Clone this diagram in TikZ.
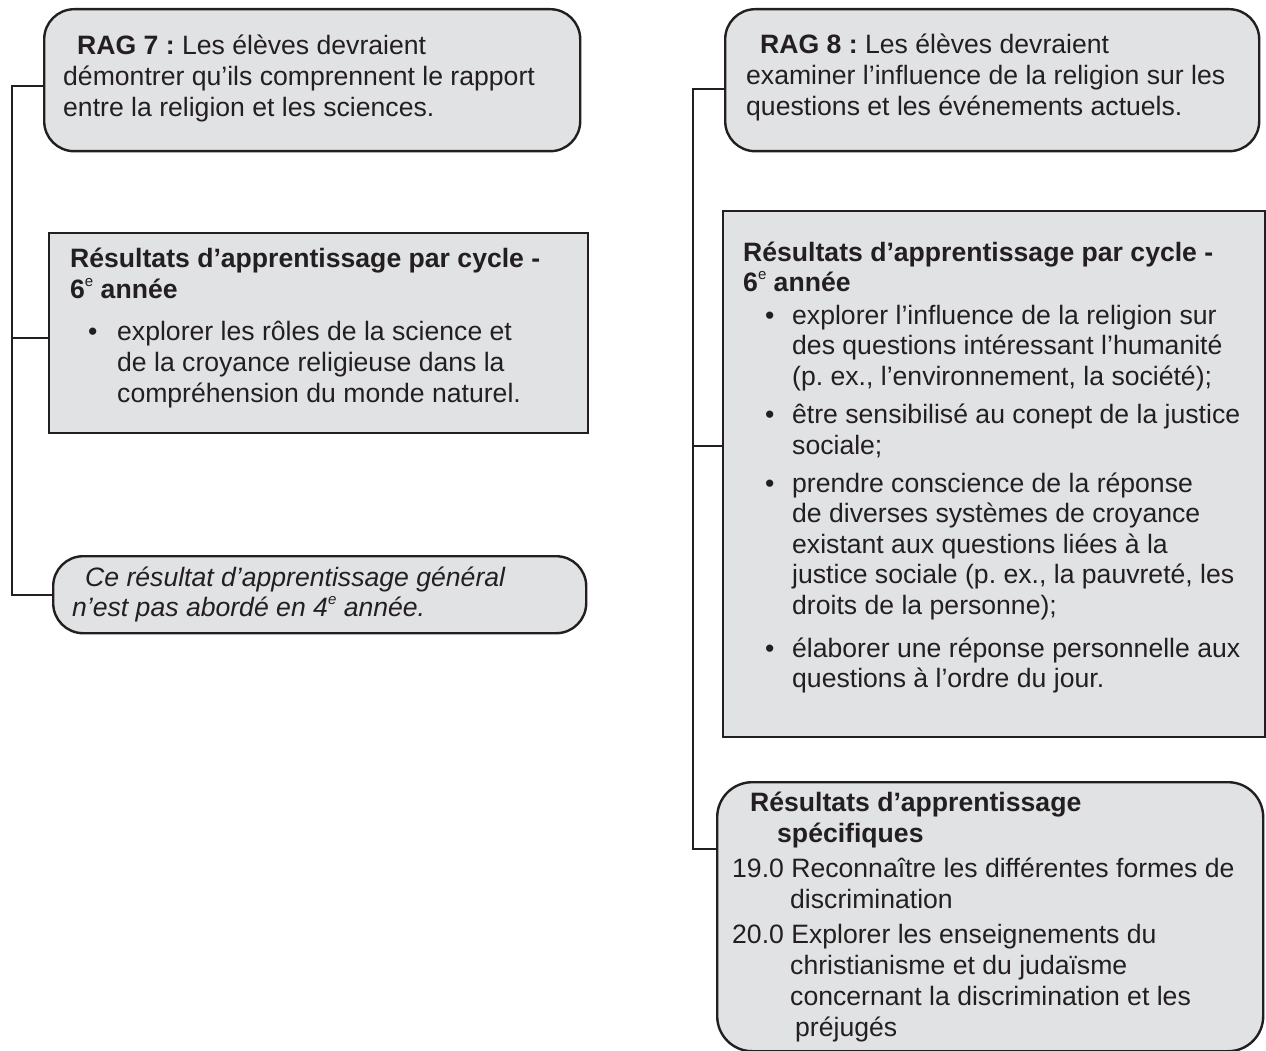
\documentclass[tikz,border=0pt]{standalone}
\usepackage{fontspec}
\setmainfont{Liberation Sans}
\frenchspacing
\definecolor{ink}{HTML}{231F20}
\definecolor{boxfill}{RGB}{225,226,228}
\tikzset{
  boxbase/.style={draw=ink, line width=2.4pt, fill=boxfill, anchor=north west, inner sep=0pt},
  roundbox/.style={boxbase, rounded corners=30pt},
  rectbox/.style={boxbase},
  txt/.style={anchor=base west, inner sep=0pt, text=ink, font=\fontsize{26.6}{30.6}\selectfont\frenchspacing},
  link/.style={draw=ink, line width=2.4pt},
}
\newcommand{\sups}[1]{\raisebox{0.45em}{\fontsize{15}{15}\selectfont\mdseries #1}}
\begin{document}
\begin{tikzpicture}[x=1pt,y=-1pt]
\useasboundingbox (0,0) rectangle (1266,1051);
% left column boxes
\node[roundbox, minimum width=536pt, minimum height=142pt] (lb1) at (43,8) {};
\node[rectbox, minimum width=539pt, minimum height=200pt] (lb2) at (48,232) {};
\node[roundbox, minimum width=533pt, minimum height=77pt] (lb3) at (52,555) {};
% right column boxes
\node[roundbox, minimum width=534pt, minimum height=142pt] (rb1) at (724,8) {};
\node[rectbox, minimum width=542pt, minimum height=526pt] (rb2) at (722,210) {};
\node[roundbox, rounded corners=35pt, minimum width=546pt, minimum height=269pt] (rb3) at (716,781) {};
% connectors
\draw[link] ([yshift=-6pt]lb1.west) -- ++(-31pt,0) |- (lb3.west);
\draw[link] ([yshift=-5pt]lb2.west) -- ++(-36pt,0);
\draw[link] ([yshift=-9pt]rb1.west) -- ++(-31pt,0) |- ([yshift=67.5pt]rb3.west);
\draw[link] ([yshift=28pt]rb2.west) -- ++(-29pt,0);
% texts
\node[txt] (lt1) at (63,55) {\vtop{%
  \hbox{\hspace*{14pt}\textbf{RAG 7 :} Les élèves devraient}
  \hbox{démontrer qu’ils comprennent le rapport}
  \hbox{entre la religion et les sciences.}}};
\node[txt] (lt2) at (70,267) {\vtop{\baselineskip=31pt
  \hbox{\textbf{Résultats d’apprentissage par cycle -}}
  \hbox{\textbf{6\sups{e} année}}
  \vskip 11pt
  \hbox{\hspace*{18pt}\makebox[29pt][l]{•}explorer les rôles de la science et}
  \hbox{\hspace*{47pt}de la croyance religieuse dans la}
  \hbox{\hspace*{47pt}compréhension du monde naturel.}}};
\node[txt] (lt3) at (72,586) {\vtop{\itshape
  \hbox{\hspace*{13pt}Ce résultat d’apprentissage général}
  \hbox{n’est pas abordé en 4\sups{e} année.}}};
\node[txt] (rt1) at (746,54) {\vtop{%
  \hbox{\hspace*{14pt}\textbf{RAG 8 :} Les élèves devraient}
  \hbox{examiner l’influence de la religion sur les}
  \hbox{questions et les événements actuels.}}};
\node[txt] (rt2) at (743,261) {\vtop{%
  \hbox{\textbf{Résultats d’apprentissage par cycle -}}
  \hbox{\textbf{6\sups{e} année}}
  \vskip 2pt
  \hbox{\hspace*{22pt}\makebox[27pt][l]{•}explorer l’influence de la religion sur}
  \hbox{\hspace*{49pt}des questions intéressant l’humanité}
  \hbox{\hspace*{49pt}(p. ex., l’environnement, la société);}
  \vskip 7.4pt
  \hbox{\hspace*{22pt}\makebox[27pt][l]{•}être sensibilisé au conept de la justice}
  \hbox{\hspace*{49pt}sociale;}
  \vskip 7.4pt
  \hbox{\hspace*{22pt}\makebox[27pt][l]{•}prendre conscience de la réponse}
  \hbox{\hspace*{49pt}de diverses systèmes de croyance}
  \hbox{\hspace*{49pt}existant aux questions liées à la}
  \hbox{\hspace*{49pt}justice sociale (p. ex., la pauvreté, les}
  \hbox{\hspace*{49pt}droits de la personne);}
  \vskip 12pt
  \hbox{\hspace*{22pt}\makebox[27pt][l]{•}élaborer une réponse personnelle aux}
  \hbox{\hspace*{49pt}questions à l’ordre du jour.}}};
\node[txt] (rt3) at (750,811) {\vtop{\baselineskip=31pt
  \hbox{\textbf{Résultats d’apprentissage}}
  \hbox{\hspace*{27pt}\textbf{spécifiques}}
  \vskip 4pt
  \hbox{\hspace*{-18pt}19.0 Reconnaître les différentes formes de}
  \hbox{\hspace*{40pt}discrimination}
  \vskip 4pt
  \hbox{\hspace*{-18pt}20.0 Explorer les enseignements du}
  \hbox{\hspace*{40pt}christianisme et du judaïsme}
  \hbox{\hspace*{40pt}concernant la discrimination et les}
  \hbox{\hspace*{45pt}préjugés}}};
\end{tikzpicture}
\end{document}
